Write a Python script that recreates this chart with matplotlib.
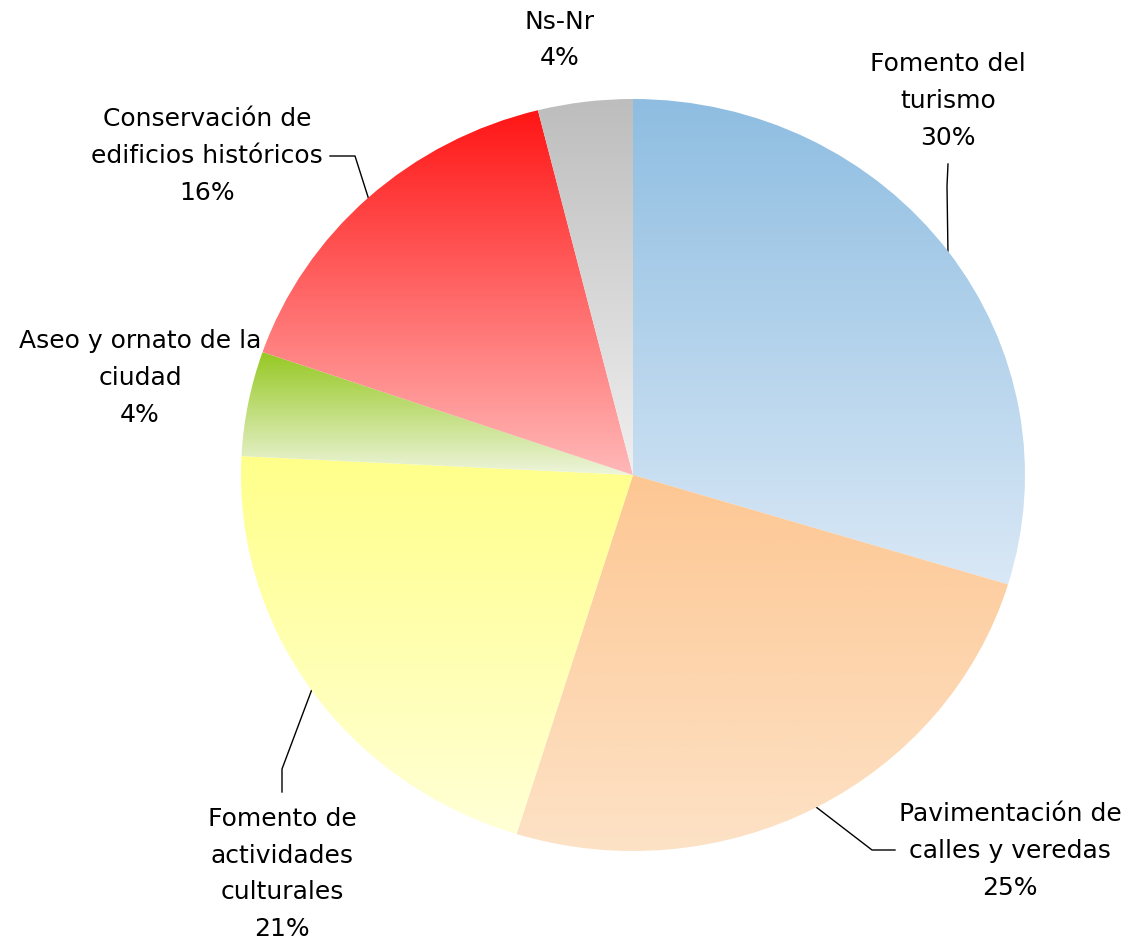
import numpy as np
import matplotlib
matplotlib.use('Agg')
import matplotlib.pyplot as plt
from matplotlib.colors import LinearSegmentedColormap

# Slice data (clockwise from 12 o'clock)
labels = ['Fomento del\nturismo', 'Pavimentación de\ncalles y veredas',
          'Fomento de\nactividades\nculturales', 'Aseo y ornato de la\nciudad',
          'Conservación de\nedificios históricos', 'Ns-Nr']
values = [29.7, 25.1, 21.0, 4.5, 15.8, 3.9]
pct_text = ['30%', '25%', '21%', '4%', '16%', '4%']

# gradient colours: top -> bottom
top_colors = ['#8ebde1', '#fdc793', '#ffff8a', '#96c823', '#ff1515', '#bdbdbd']
bottom_colors = ['#d9e8f6', '#fde2c6', '#ffffd6', '#eef5dc', '#ffb8b8', '#f0f0f0']

W, H = 1131, 945
fig = plt.figure(figsize=(W / 100, H / 100), dpi=100)

# overlay axes in pixel units (y from top) for labels and leader lines
ax = fig.add_axes([0, 0, 1, 1])
ax.set_xlim(0, W)
ax.set_ylim(H, 0)
ax.axis('off')

# pie is slightly squashed vertically in the original
cx, cy, rx, ry = 633, 476, 392, 376
pax = fig.add_axes([(cx - rx) / W, 1 - (cy + ry) / H, 2 * rx / W, 2 * ry / H])
wedges, _ = pax.pie(values, startangle=90, counterclock=False, radius=1,
                    wedgeprops=dict(linewidth=0))
pax.set_aspect('auto')
pax.set_xlim(-1, 1)
pax.set_ylim(-1, 1)
pax.axis('off')

for w, c1, c2 in zip(wedges, top_colors, bottom_colors):
    w.set_facecolor('none')
    th = np.radians(np.linspace(w.theta1, w.theta2, 200))
    ys = np.concatenate([np.sin(th), [0]])
    xs = np.concatenate([np.cos(th), [0]])
    cmap = LinearSegmentedColormap.from_list('g', [c2, c1])
    grad = np.linspace(0, 1, 256).reshape(-1, 1)
    im = pax.imshow(grad, cmap=cmap, origin='lower', aspect='auto',
                    extent=[xs.min(), xs.max(), ys.min(), ys.max()], zorder=1)
    im.set_clip_path(w)
pax.set_xlim(-1, 1)
pax.set_ylim(-1, 1)

fs = 18
font = 'DejaVu Sans'

# label centre (x, y) and leader line elbows, pixel coords from top
text_pos = [(948, 101), (1010, 851), (282, 874), (140, 378), (207, 156), (560, 40)]
elbows = [[(948, 165), (947, 187)],
          [(895, 851), (872, 851)],
          [(282, 793), (282, 770)],
          None,
          [(330, 157), (355, 157)],
          None]

for i, (lab, pt) in enumerate(zip(labels, pct_text)):
    tx, ty = text_pos[i]
    ax.text(tx, ty, lab + '\n' + pt, ha='center', va='center', fontsize=fs,
            family=font, linespacing=1.66, color='black', zorder=3)
    if elbows[i] is not None:
        w = wedges[i]
        mid = np.radians((w.theta1 + w.theta2) / 2)
        ex, ey = cx + rx * np.cos(mid), cy - ry * np.sin(mid)
        px = [p[0] for p in elbows[i]] + [ex]
        py = [p[1] for p in elbows[i]] + [ey]
        ax.plot(px, py, color='black', lw=1, zorder=3)

fig.savefig('out.png', dpi=100)
